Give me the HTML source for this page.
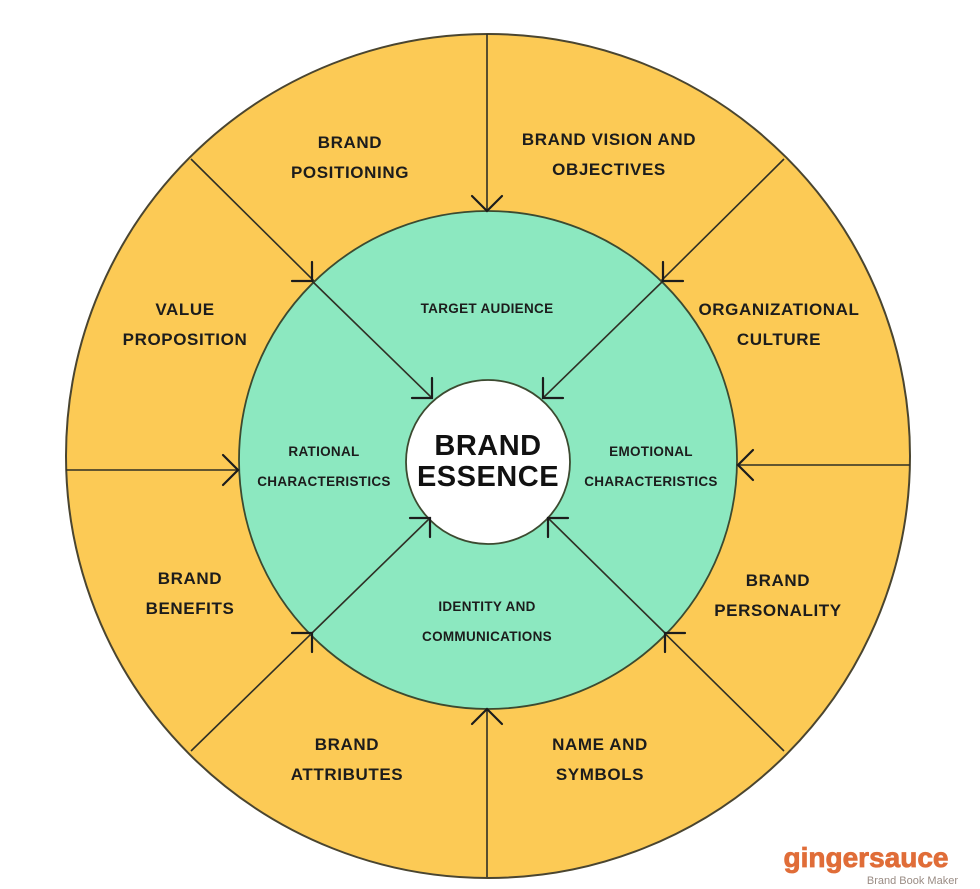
<!DOCTYPE html>
<html><head><meta charset="utf-8"><style>
html,body{margin:0;padding:0;background:#fff;width:980px;height:889px;overflow:hidden}
svg{display:block}
text{font-family:"Liberation Sans",sans-serif;font-weight:bold;fill:#1c1c1c;text-anchor:middle}
.o{font-size:17px;letter-spacing:0.6px}
.g{font-size:13.5px;letter-spacing:0.3px}
</style></head><body>
<svg width="980" height="889" viewBox="0 0 980 889">
<circle cx="488" cy="456" r="422" fill="#fcca55" stroke="#4a4530" stroke-width="2"/>
<g stroke="#2f2f25" stroke-width="1.6" fill="none">
<line x1="487" y1="34" x2="487" y2="211"/>
<line x1="487" y1="877" x2="487" y2="709"/>
<line x1="66" y1="470" x2="238" y2="470"/>
<line x1="910" y1="465" x2="738" y2="465"/>
<line x1="191" y1="159" x2="432" y2="398"/>
<line x1="784" y1="159" x2="543" y2="398"/>
<line x1="191" y1="751" x2="430" y2="518"/>
<line x1="784" y1="751" x2="548" y2="518"/>
</g>
<circle cx="488" cy="460" r="249" fill="#8ce8c0" stroke="#3c4a30" stroke-width="1.8"/>
<g stroke="#2f2f25" stroke-width="1.6" fill="none">
<line x1="312" y1="281" x2="432" y2="398"/>
<line x1="663" y1="281" x2="543" y2="398"/>
<line x1="312" y1="633" x2="430" y2="518"/>
<line x1="665" y1="633" x2="548" y2="518"/>
</g>
<circle cx="488" cy="462" r="82" fill="#fff" stroke="#3c4a30" stroke-width="1.8"/>
<g stroke="#1c1c1c" stroke-width="2.2" fill="none" stroke-linecap="round">
<polyline points="472,196 487,211 502,196"/>
<polyline points="472,724 487,709 502,724"/>
<polyline points="223,455 238,470 223,485"/>
<polyline points="753,450 738,465 753,480"/>
<polyline points="312,262 312,281 292,281"/>
<polyline points="432,378 432,398 412,398"/>
<polyline points="663,262 663,281 683,281"/>
<polyline points="543,378 543,398 563,398"/>
<polyline points="292,633 312,633 312,652"/>
<polyline points="410,518 430,518 430,537"/>
<polyline points="685,633 665,633 665,652"/>
<polyline points="568,518 548,518 548,537"/>
</g>
<text class="o" x="350" y="148">BRAND</text>
<text class="o" x="350" y="178">POSITIONING</text>
<text class="o" x="609" y="145">BRAND VISION AND</text>
<text class="o" x="609" y="175">OBJECTIVES</text>
<text class="o" x="185" y="315">VALUE</text>
<text class="o" x="185" y="345">PROPOSITION</text>
<text class="o" x="779" y="315">ORGANIZATIONAL</text>
<text class="o" x="779" y="345">CULTURE</text>
<text class="o" x="190" y="584">BRAND</text>
<text class="o" x="190" y="614">BENEFITS</text>
<text class="o" x="778" y="586">BRAND</text>
<text class="o" x="778" y="616">PERSONALITY</text>
<text class="o" x="347" y="750">BRAND</text>
<text class="o" x="347" y="780">ATTRIBUTES</text>
<text class="o" x="600" y="750">NAME AND</text>
<text class="o" x="600" y="780">SYMBOLS</text>
<text class="g" x="487" y="313">TARGET AUDIENCE</text>
<text class="g" x="324" y="456">RATIONAL</text>
<text class="g" x="324" y="486">CHARACTERISTICS</text>
<text class="g" x="651" y="456">EMOTIONAL</text>
<text class="g" x="651" y="486">CHARACTERISTICS</text>
<text class="g" x="487" y="611">IDENTITY AND</text>
<text class="g" x="487" y="641">COMMUNICATIONS</text>
<text x="488" y="455" style="font-size:29px;fill:#111;letter-spacing:0.5px">BRAND</text>
<text x="488" y="486" style="font-size:29px;fill:#111;letter-spacing:0.5px">ESSENCE</text>
<text x="866" y="867" style="font-size:28px;fill:#e06d38;stroke:#e06d38;stroke-width:0.8px">gingersauce</text>
<text x="958" y="884" style="font-size:11px;fill:#9a8c84;font-weight:normal;text-anchor:end">Brand Book Maker</text>
</svg>
</body></html>
